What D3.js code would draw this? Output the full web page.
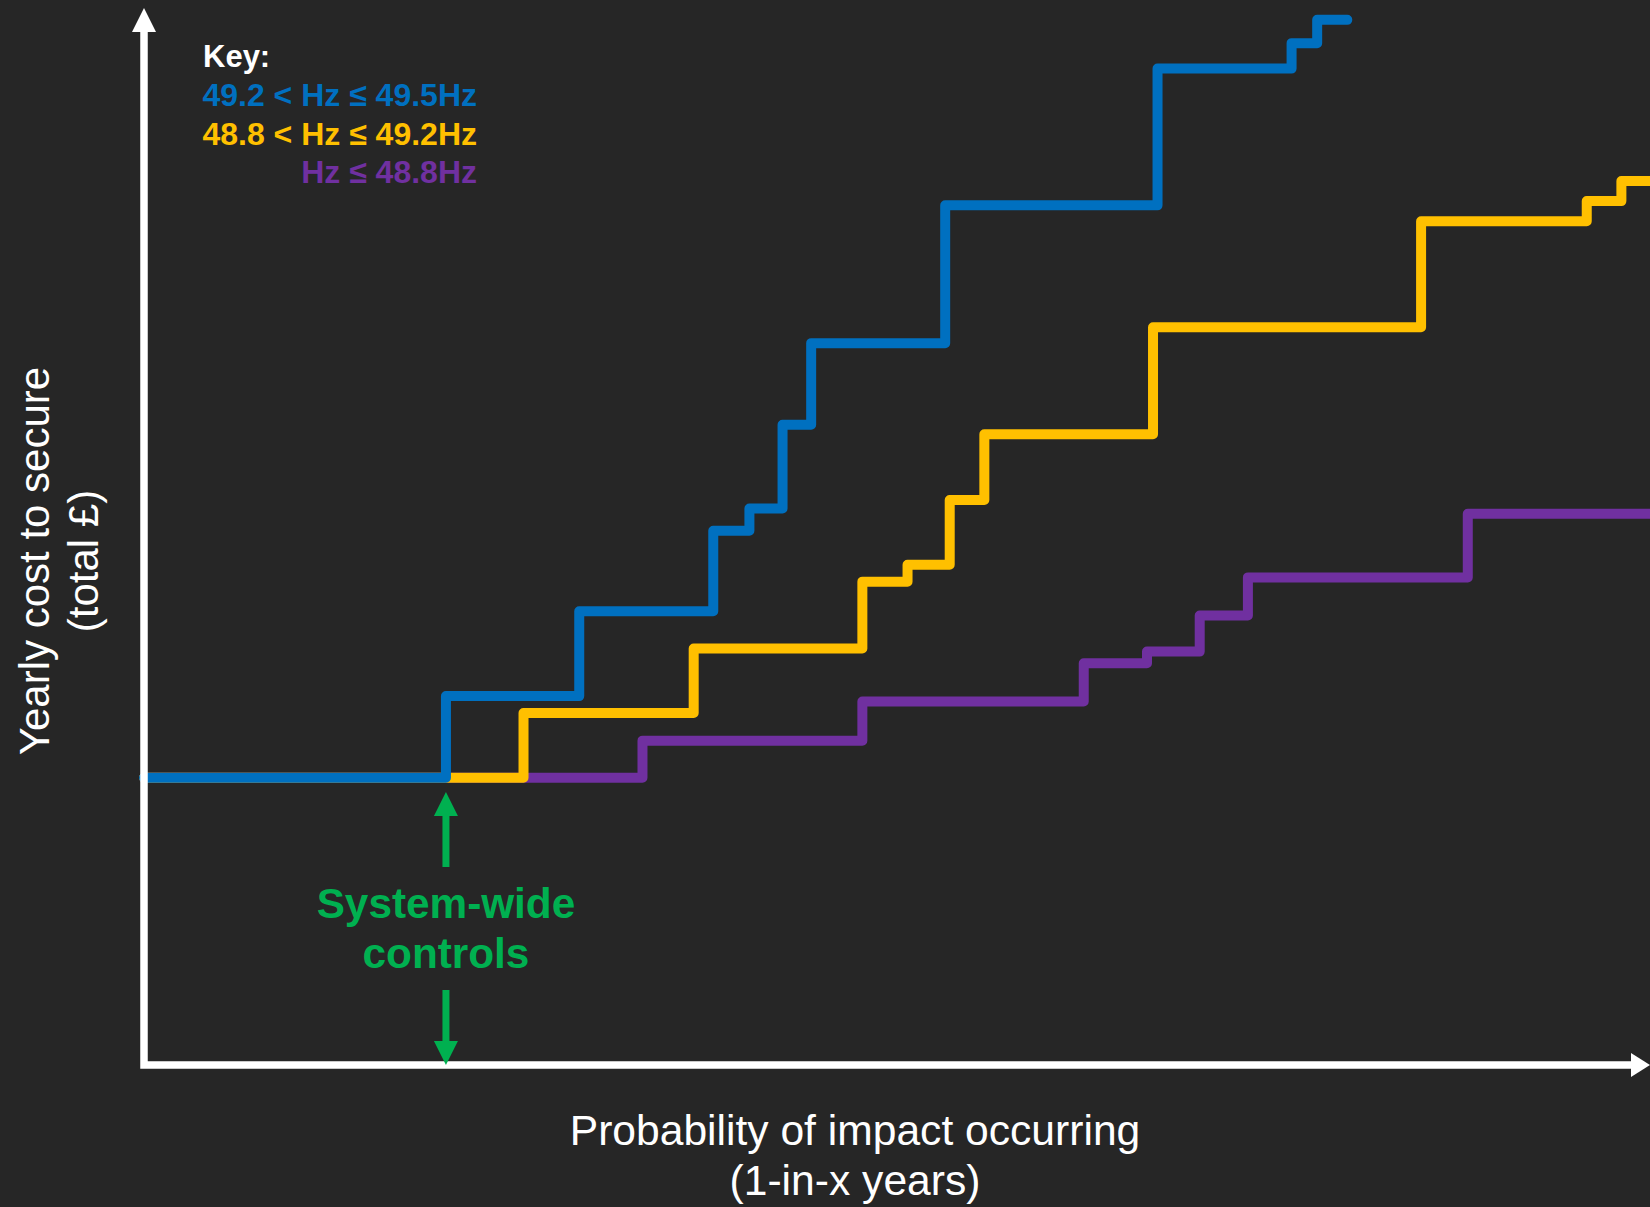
<!DOCTYPE html>
<html>
<head>
<meta charset="utf-8">
<script src="https://cdn.jsdelivr.net/npm/d3@7"></script>
<style>
  html, body { margin: 0; padding: 0; background: #262626; overflow: hidden; }
  text { font-family: "Liberation Sans", Arial, sans-serif; }
</style>
</head>
<body>
<svg id="chart"></svg>
<script>
const W = 1650, H = 1207;

// Step curves: x = probability position (0–100), y = yearly cost level (0–100).
// Each series has one more x than y: the last x is where the final level ends.
const blueX   = [0, 20.05, 28.9, 37.8, 40.2, 42.4, 44.3, 53.2, 67.3, 76.2, 77.9, 79.9];
const blueY   = [27.1, 34.8, 42.8, 50.4, 52.5, 60.4, 68.1, 81.1, 94.0, 96.4, 98.6];
const yellowX = [0, 25.2, 36.5, 47.7, 50.7, 53.5, 55.8, 67.0, 84.8, 95.8, 98.1, 100];
const yellowY = [27.1, 33.2, 39.3, 45.6, 47.2, 53.3, 59.5, 69.6, 79.6, 81.5, 83.4];
const purpleX = [0, 33.1, 47.7, 62.4, 66.6, 70.1, 73.3, 87.9, 100];
const purpleY = [27.1, 30.6, 34.3, 37.9, 39.0, 42.4, 46.0, 52.0];

const seriesNames  = ["Hz \u2264 48.8Hz", "48.8 < Hz \u2264 49.2Hz", "49.2 < Hz \u2264 49.5Hz"];
const seriesColors = ["#7030A0", "#FFC000", "#0070C0"];
const seriesX = [purpleX, yellowX, blueX];
const seriesY = [purpleY, yellowY, blueY];

const controlsX = 20.05;   // where the system-wide controls sit on the probability axis
const legendTitle = "Key:";
const xTitle = ["Probability of impact occurring", "(1-in-x years)"];
const yTitle = ["Yearly cost to secure", "(total \u00A3)"];
const controlsLabel = ["System-wide", "controls"];

const svg = d3.select("#chart").attr("width", W).attr("height", H);
svg.append("rect").attr("width", W).attr("height", H).attr("fill", "#262626");

const x = d3.scaleLinear().domain([0, 100]).range([144, 1650]);
const y = d3.scaleLinear().domain([0, 100]).range([1065, 5]);

// Step lines (purple under yellow under blue)
const line = d3.line().x(d => x(d[0])).y(d => y(d[1])).curve(d3.curveStepAfter);
seriesX.forEach((xs, i) => {
  const ys = seriesY[i];
  const pts = ys.map((v, j) => [xs[j], v]);
  pts.push([xs[xs.length - 1], ys[ys.length - 1]]);
  svg.append("path")
    .datum(pts)
    .attr("d", line)
    .attr("fill", "none")
    .attr("stroke", seriesColors[i])
    .attr("stroke-width", 10)
    .attr("stroke-linejoin", "round")
    .attr("stroke-linecap", "round");
});

// Axes: plain white arrows
const axisW = 7.5;
const x0 = x(0), y0 = y(0);
const gAxes = svg.append("g");
gAxes.append("path")
  .attr("d", `M${x0},31 L${x0},${y0} L1632,${y0}`)
  .attr("fill", "none").attr("stroke", "#fff")
  .attr("stroke-width", axisW).attr("stroke-linejoin", "miter");
gAxes.append("path")
  .attr("d", `M${x0},8 L${x0 + 12},32 L${x0 - 12},32 Z`)
  .attr("fill", "#fff");
gAxes.append("path")
  .attr("d", `M1650,${y0} L1631,${y0 - 12} L1631,${y0 + 12} Z`)
  .attr("fill", "#fff");

// Axis titles
svg.append("text")
  .attr("x", 855).attr("text-anchor", "middle")
  .attr("fill", "#fff").attr("font-size", 42.6)
  .selectAll("tspan").data(xTitle).join("tspan")
  .attr("x", 855).attr("y", (d, i) => 1145 + i * 50).text(d => d);

svg.append("g").attr("transform", "translate(0,561) rotate(-90)")
  .append("text").attr("text-anchor", "middle")
  .attr("fill", "#fff").attr("font-size", 42)
  .selectAll("tspan").data(yTitle).join("tspan")
  .attr("x", 0).attr("y", (d, i) => 49 + i * 49).text(d => d);

// Legend
const gLeg = svg.append("g").attr("font-weight", "bold");
gLeg.append("text").attr("x", 203).attr("y", 67).attr("fill", "#fff")
  .attr("font-size", 31).text(legendTitle);
[2, 1, 0].forEach((si, k) => {
  gLeg.append("text")
    .attr("x", 477).attr("y", 106 + k * 38.5)
    .attr("text-anchor", "end")
    .attr("font-size", 32)
    .attr("fill", seriesColors[si])
    .text(seriesNames[si]);
});

// System-wide controls annotation
const green = "#00B050";
const cx = x(controlsX);
const gC = svg.append("g");
gC.append("line").attr("x1", cx).attr("x2", cx).attr("y1", 812).attr("y2", 867)
  .attr("stroke", green).attr("stroke-width", 7);
gC.append("path").attr("d", `M${cx},792 L${cx + 12},816 L${cx - 12},816 Z`).attr("fill", green);
gC.append("line").attr("x1", cx).attr("x2", cx).attr("y1", 990).attr("y2", 1044)
  .attr("stroke", green).attr("stroke-width", 7);
gC.append("path").attr("d", `M${cx},1065 L${cx + 12},1041 L${cx - 12},1041 Z`).attr("fill", green);
gC.append("text").attr("text-anchor", "middle").attr("fill", green)
  .attr("font-weight", "bold").attr("font-size", 42.3)
  .selectAll("tspan").data(controlsLabel).join("tspan")
  .attr("x", cx).attr("y", (d, i) => 918 + i * 50).text(d => d);
</script>
</body>
</html>
